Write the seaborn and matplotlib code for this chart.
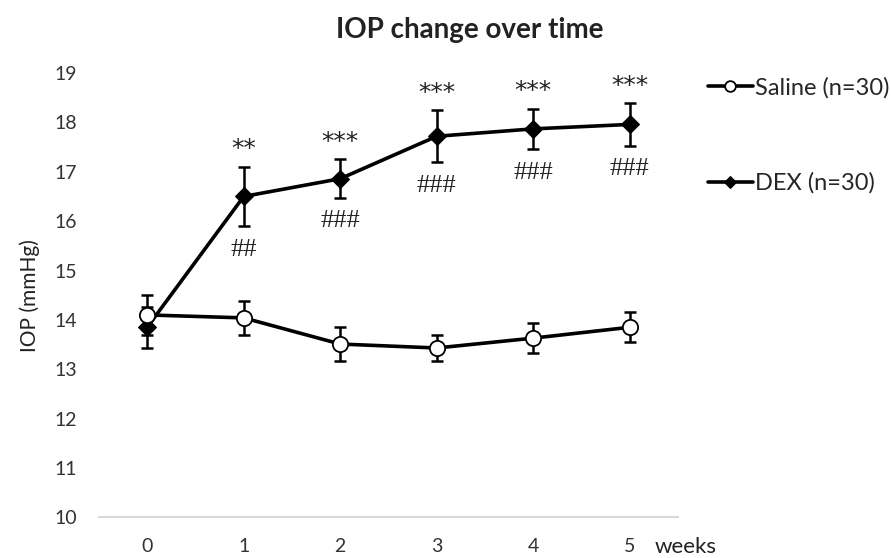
import numpy as np
import pandas as pd
import matplotlib
matplotlib.use("Agg")
import matplotlib.pyplot as plt
import matplotlib.transforms as mtransforms
import seaborn as sns

sns.set_style("white")
plt.rcParams['font.family'] = ['Lato', 'DejaVu Sans']

# data
weeks = [0, 1, 2, 3, 4, 5]
saline_mean = [14.10, 14.04, 13.51, 13.43, 13.63, 13.85]
saline_err = [0.40, 0.35, 0.35, 0.26, 0.31, 0.30]
dex_mean = [13.85, 16.50, 16.86, 17.72, 17.87, 17.96]
dex_err = [0.42, 0.60, 0.39, 0.53, 0.41, 0.43]
stars = ["", "**", "***", "***", "***", "***"]
hashes = ["", "##", "###", "###", "###", "###"]

df = pd.DataFrame({
    "week": weeks * 2,
    "iop": saline_mean + dex_mean,
    "group": ["Saline (n=30)"] * 6 + ["DEX (n=30)"] * 6,
})

fig, ax = plt.subplots(figsize=(8.91, 5.58), dpi=100)
fig.subplots_adjust(left=0.111, right=0.761, bottom=0.073, top=0.869)

# error bars first so lines & markers sit on top
ax.errorbar(weeks, saline_mean, yerr=saline_err, fmt="none", ecolor="black",
            elinewidth=1.8, capsize=4, capthick=1.8, zorder=2)
ax.errorbar(weeks, dex_mean, yerr=dex_err, fmt="none", ecolor="black",
            elinewidth=1.8, capsize=4, capthick=1.8, zorder=2)

sns.lineplot(data=df[df.group == "DEX (n=30)"], x="week", y="iop", ax=ax,
             color="black", lw=2.6, marker="D", markersize=9,
             markerfacecolor="black", markeredgecolor="black",
             label="DEX (n=30)", zorder=3)
sns.lineplot(data=df[df.group == "Saline (n=30)"], x="week", y="iop", ax=ax,
             color="black", lw=2.6, marker="o", markersize=11,
             markerfacecolor="white", markeredgecolor="black", markeredgewidth=1.3,
             label="Saline (n=30)", zorder=4)

# significance marks
for w, m, e, s, h in zip(weeks, dex_mean, dex_err, stars, hashes):
    if s:
        ax.annotate(s, (w, m + e), xytext=(0, 4), textcoords="offset points",
                    ha="center", va="bottom", fontsize=18, family="DejaVu Sans",
                    color="#222222")
    if h:
        ax.annotate(h, (w, m - e), xytext=(0, -9), textcoords="offset points",
                    ha="center", va="top", fontsize=19, family="Liberation Serif",
                    color="#222222")

ax.set_xlim(-0.5, 5.5)
ax.set_ylim(10, 19)
ax.set_yticks(range(10, 20))
ax.set_xticks(weeks)
ax.tick_params(axis="both", length=0, labelsize=14, labelcolor="#333333")
ax.tick_params(axis="x", pad=15)
ax.tick_params(axis="y", pad=16)

for side in ["top", "right", "left"]:
    ax.spines[side].set_visible(False)
ax.spines["bottom"].set_color("#d9d9d9")
ax.spines["bottom"].set_linewidth(1.5)

ax.set_xlabel("")
ax.set_ylabel("IOP (mmHg)", fontsize=15, color="#222222", labelpad=10)
trans = mtransforms.blended_transform_factory(ax.transData, ax.transAxes)
ax.text(5.26, -0.068, "weeks", transform=trans,
        fontsize=16, color="#222222", va="center", ha="left")
fig.text(0.527, 0.946, "IOP change over time", fontsize=20, fontweight="bold",
         ha="center", va="center", color="#222222")

handles, labels = ax.get_legend_handles_labels()
order = [labels.index("Saline (n=30)"), labels.index("DEX (n=30)")]
ax.legend([handles[i] for i in order], [labels[i] for i in order],
          loc="upper left", bbox_to_anchor=(1.015, 1.04), frameon=False,
          fontsize=17, handlelength=1.9, handletextpad=0.1, labelspacing=3.15,
          markerscale=0.7)

fig.savefig("out.png", dpi=100)
